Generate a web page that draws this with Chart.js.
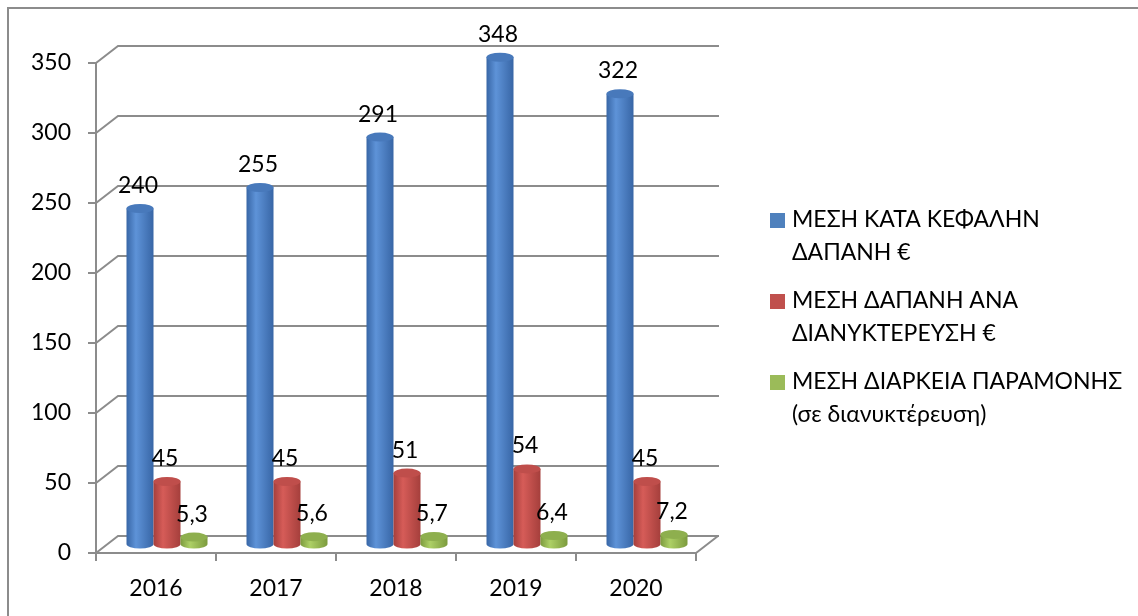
<!DOCTYPE html>
<html lang="el">
<head>
<meta charset="UTF-8">
<title>Μέση δαπάνη και διάρκεια παραμονής 2016-2020</title>
<script src="https://cdn.jsdelivr.net/npm/chart.js@4"></script>
<style>
  html, body { margin: 0; padding: 0; background: #fff; }
  #wrap { width: 1138px; height: 616px; }
</style>
</head>
<body>
<div id="wrap"><canvas id="chart" width="1138" height="616"></canvas></div>
<script>
const years = ['2016', '2017', '2018', '2019', '2020'];
const perHeadSpend = [240, 255, 291, 348, 322];
const perNightSpend = [45, 45, 51, 54, 45];
const avgStayNights = [5.3, 5.6, 5.7, 6.4, 7.2];

const seriesNames = [
  ['ΜΕΣΗ ΚΑΤΆ ΚΕΦΑΛΗΝ', 'ΔΑΠΑΝΗ €'],
  ['ΜΕΣΗ ΔΑΠΑΝΗ ΑΝΑ', 'ΔΙΑΝΥΚΤΕΡΕΥΣΗ €'],
  ['ΜΕΣΗ ΔΙΑΡΚΕΙΑ ΠΑΡΑΜΟΝΗΣ', '(σε διανυκτέρευση)'],
];
const seriesColors = ['#4F81BD', '#C0504D', '#9BBB59'];
// cylinder shading: edge, highlight, top cap
const shades = [
  { dark: '#3866a6', light: '#5e93d8', top: '#4879bb' },
  { dark: '#a53f3c', light: '#d65c58', top: '#bf4e4b' },
  { dark: '#7c9b3e', light: '#add066', top: '#8eaf4e' },
];
const yMin = 0, yMax = 350, yStep = 50;

const DX = 22, DY = -17;   // depth of the 3D box
const GRID = '#8c8c8c';
const FONT = "Lato, 'Open Sans', sans-serif";
const FSIZE = 23;

const fmt = v => String(v).replace('.', ',');

function line(ctx, pts) {
  ctx.beginPath();
  ctx.moveTo(pts[0][0], pts[0][1]);
  for (let i = 1; i < pts.length; i++) ctx.lineTo(pts[i][0], pts[i][1]);
  ctx.stroke();
}

// walls, floor and axis lines, then cylinders, labels and legend
const box3d = {
  id: 'box3d',
  beforeDatasetsDraw(chart) {
    const { ctx, chartArea: a, scales: { x, y } } = chart;
    ctx.save();
    ctx.strokeStyle = GRID;
    ctx.lineWidth = 2;
    ctx.strokeRect(8, 8, 1400, 900);

    y.ticks.forEach(t => {
      const py = y.getPixelForValue(t.value);
      line(ctx, [[a.left, py], [a.left + DX, py + DY], [a.right + DX + 1, py + DY]]);
      line(ctx, [[a.left - 8, py], [a.left, py]]);
    });
    line(ctx, [[a.left, a.top], [a.left, a.bottom]]);
    line(ctx, [[a.left, a.bottom], [a.right, a.bottom], [a.right + DX, a.bottom + DY]]);
    for (let i = 0; i <= years.length; i++) {
      const px = x.getPixelForValue(i - 0.5);
      line(ctx, [[px, a.bottom], [px, a.bottom + 8]]);
    }
    ctx.restore();
  },
  afterDatasetsDraw(chart) {
    const { ctx } = chart;
    ctx.save();
    chart.data.datasets.forEach((ds, di) => {
      const sh = shades[di];
      chart.getDatasetMeta(di).data.forEach((bar, i) => {
        const cx = bar.x + DX / 2, top = bar.y + DY / 2, base = bar.base + DY / 2;
        const r = bar.width / 2, ry = 4.5;
        const g = ctx.createLinearGradient(cx - r, 0, cx + r, 0);
        g.addColorStop(0, sh.dark);
        g.addColorStop(0.35, sh.light);
        g.addColorStop(1, sh.dark);
        ctx.fillStyle = g;
        ctx.beginPath();
        ctx.moveTo(cx - r, top);
        ctx.lineTo(cx - r, base);
        ctx.ellipse(cx, base, r, ry, 0, Math.PI, 0, true);
        ctx.lineTo(cx + r, top);
        ctx.closePath();
        ctx.fill();
        ctx.fillStyle = sh.top;
        ctx.beginPath();
        ctx.ellipse(cx, top, r, ry, 0, 0, 2 * Math.PI);
        ctx.fill();

        ctx.fillStyle = '#000';
        ctx.font = FSIZE + 'px ' + FONT;
        ctx.textAlign = 'center';
        ctx.textBaseline = 'middle';
        ctx.fillText(fmt(ds.data[i]), cx - 2, top - 23);
      });
    });
    ctx.restore();
  },
  afterDraw(chart) {
    const { ctx } = chart;
    const rows = [220, 301, 382];
    ctx.save();
    ctx.font = FSIZE + 'px ' + FONT;
    ctx.textBaseline = 'middle';
    ctx.textAlign = 'left';
    seriesNames.forEach((lines, i) => {
      ctx.fillStyle = seriesColors[i];
      ctx.fillRect(770, rows[i] - 7, 15, 15);
      ctx.fillStyle = '#000';
      lines.forEach((t, k) => ctx.fillText(t, 792, rows[i] + k * 33));
    });
    ctx.restore();
  }
};

Chart.defaults.font.family = FONT;
Chart.defaults.font.size = FSIZE;
Chart.defaults.color = '#000';

new Chart(document.getElementById('chart'), {
  type: 'bar',
  data: {
    labels: years,
    datasets: [
      { label: seriesNames[0].join(' '), data: perHeadSpend, backgroundColor: 'rgba(0,0,0,0)' },
      { label: seriesNames[1].join(' '), data: perNightSpend, backgroundColor: 'rgba(0,0,0,0)' },
      { label: seriesNames[2].join(' '), data: avgStayNights, backgroundColor: 'rgba(0,0,0,0)' },
    ]
  },
  options: {
    responsive: false,
    animation: false,
    layout: { padding: { left: 0, top: 63, right: 442, bottom: 0 } },
    datasets: { bar: { categoryPercentage: 0.675, barPercentage: 1.0 } },
    plugins: { legend: { display: false }, tooltip: { enabled: false } },
    scales: {
      x: {
        grid: { display: true, color: 'rgba(0,0,0,0)', tickLength: 8 },
        border: { display: false },
        ticks: { padding: 14 },
        afterFit: s => { s.height = 63; }
      },
      y: {
        min: yMin, max: yMax,
        grid: { display: true, color: 'rgba(0,0,0,0)', tickLength: 8 },
        border: { display: false },
        ticks: { stepSize: yStep, padding: 17 },
        afterFit: s => { s.width = 96; }
      }
    }
  },
  plugins: [box3d]
});
</script>
</body>
</html>
